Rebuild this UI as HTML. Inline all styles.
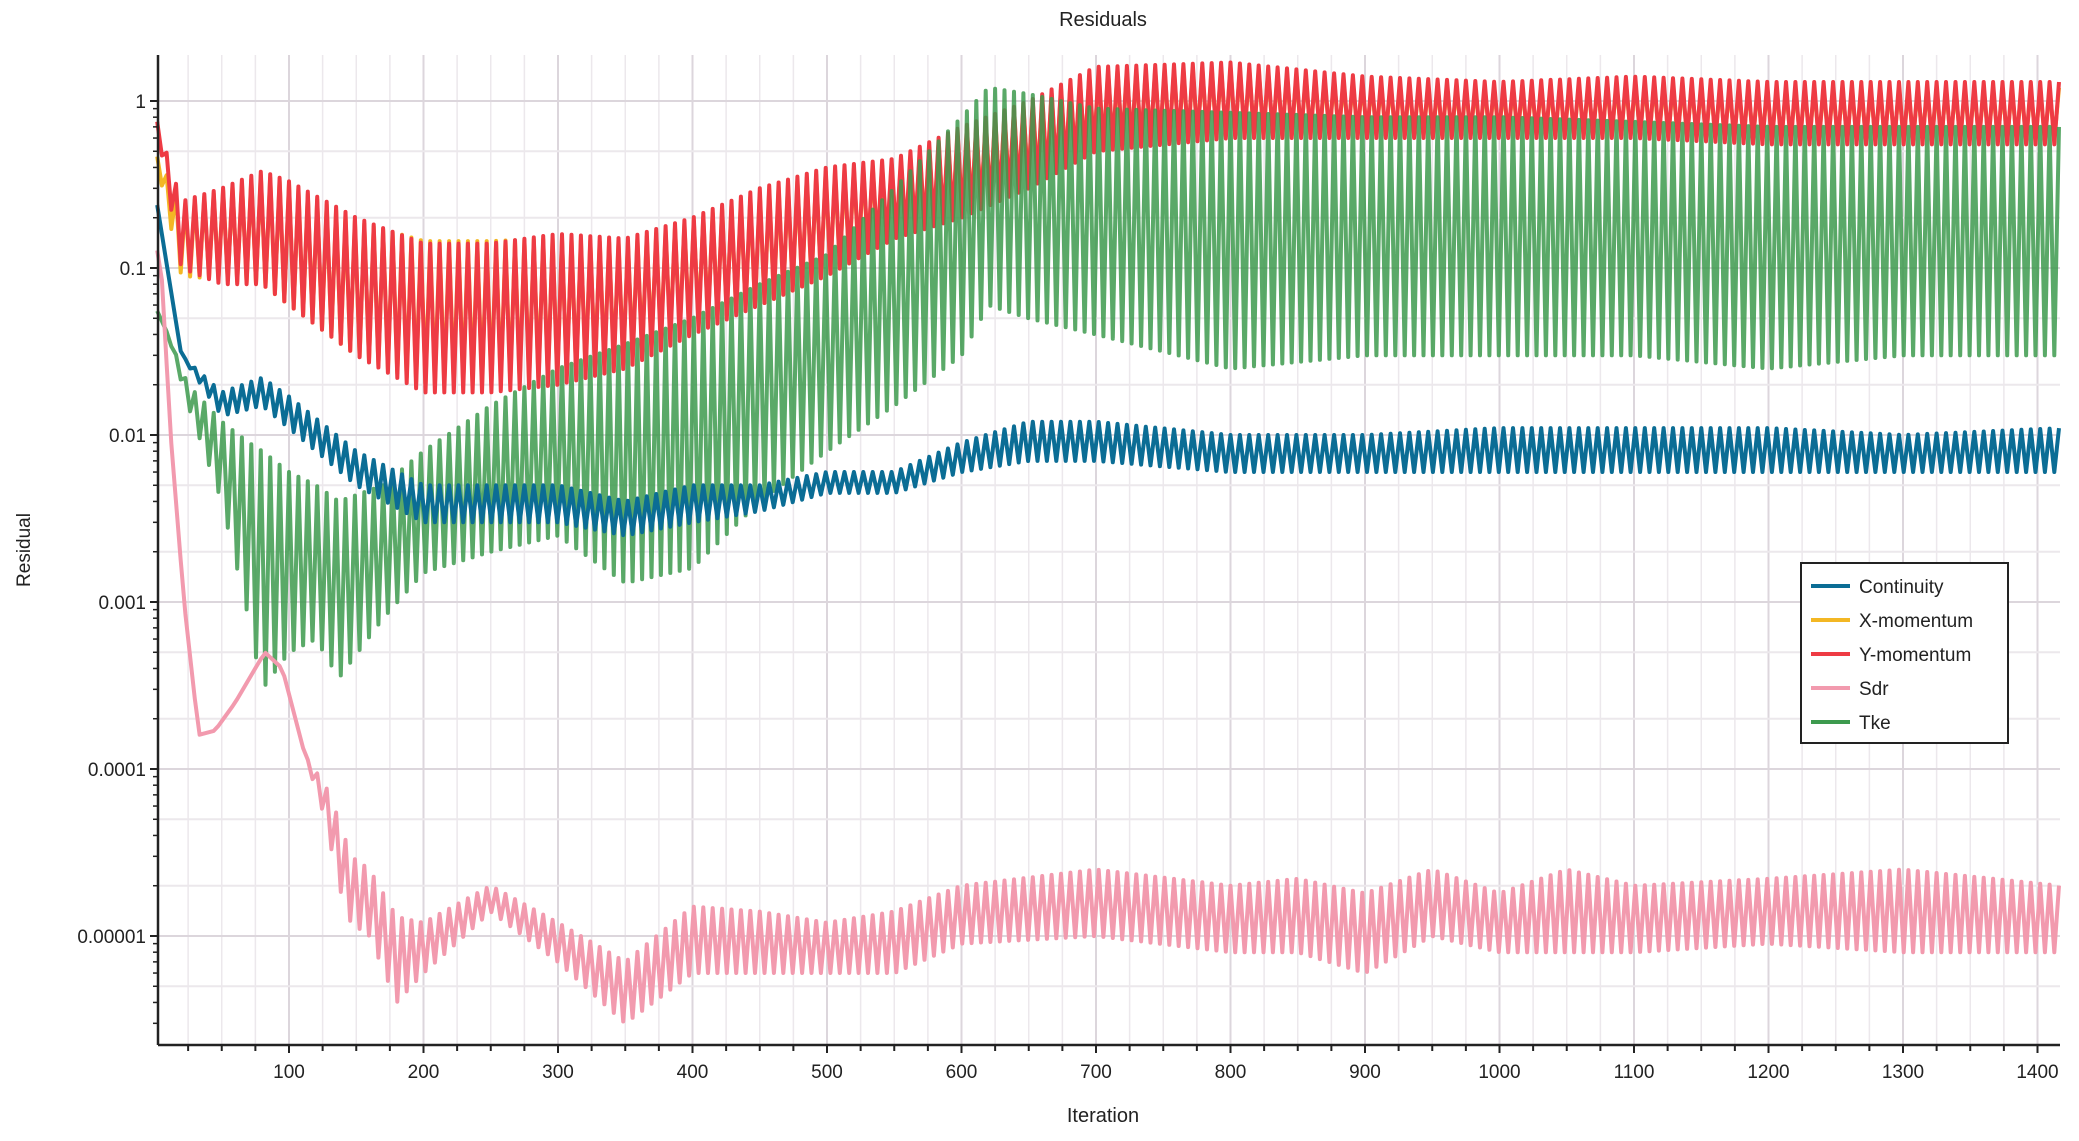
<!DOCTYPE html>
<html><head><meta charset="utf-8"><style>
html,body{margin:0;padding:0;background:#fff;}
svg{display:block;font-family:"Liberation Sans",Arial,sans-serif;}
</style></head><body>
<svg id="chart" width="2079" height="1141" viewBox="0 0 2079 1141" xmlns="http://www.w3.org/2000/svg">
<rect width="2079" height="1141" fill="#fff"/>
<g id="grid"></g>
<g id="series"></g>
<g id="axes"></g>
<text x="1103" y="26" text-anchor="middle" font-size="20" fill="#222">Residuals</text>
<text x="1103" y="1122" text-anchor="middle" font-size="20" fill="#222">Iteration</text>
<text transform="translate(30,550) rotate(-90)" text-anchor="middle" font-size="19" fill="#222">Residual</text>
<g id="legend"></g>
</svg>
<script>
// ---- data (envelopes of oscillating residuals) ----
const iters = [0,20,50,80,100,150,200,250,300,350,400,450,500,550,600,650,700,800,900,1000,1100,1200,1300,1417];
const yMomUpper = [0.85,0.25,0.3,0.38,0.33,0.2,0.14,0.14,0.16,0.15,0.2,0.3,0.4,0.45,0.7,1.0,1.6,1.7,1.4,1.3,1.4,1.3,1.3,1.3];
const yMomLower = [0.85,0.1,0.08,0.08,0.06,0.03,0.018,0.018,0.02,0.025,0.04,0.06,0.09,0.15,0.2,0.3,0.5,0.6,0.6,0.6,0.6,0.55,0.55,0.55];
const xMomUpper = [0.5,0.24,0.29,0.36,0.32,0.19,0.145,0.145,0.15,0.14,0.19,0.28,0.38,0.42,0.65,0.95,1.5,1.6,1.3,1.2,1.3,1.2,1.2,1.2];
const xMomLower = [0.5,0.09,0.085,0.08,0.06,0.03,0.02,0.02,0.022,0.028,0.045,0.06,0.09,0.15,0.21,0.32,0.52,0.62,0.62,0.62,0.62,0.58,0.58,0.58];
const tkeIters = [0,10,25,50,70,80,100,120,137,170,200,250,300,350,400,450,500,550,600,620,650,700,800,900,1000,1100,1200,1300,1417];
const tkeUpper = [0.06,0.04,0.02,0.012,0.009,0.008,0.006,0.005,0.004,0.005,0.008,0.015,0.025,0.035,0.05,0.08,0.12,0.3,0.8,1.2,1.1,0.9,0.85,0.8,0.8,0.75,0.7,0.7,0.7];
const tkeLower = [0.06,0.04,0.015,0.004,0.0008,0.0003,0.0005,0.0006,0.00035,0.0008,0.0015,0.002,0.0025,0.0013,0.0016,0.004,0.008,0.015,0.03,0.06,0.05,0.04,0.025,0.03,0.03,0.03,0.025,0.03,0.03];
const contUpper = [0.3,0.03,0.018,0.022,0.017,0.008,0.005,0.005,0.005,0.004,0.005,0.005,0.006,0.006,0.009,0.012,0.012,0.01,0.01,0.011,0.011,0.011,0.01,0.011];
const contLower = [0.3,0.03,0.013,0.015,0.011,0.005,0.003,0.003,0.003,0.0025,0.003,0.0035,0.0045,0.0045,0.006,0.007,0.007,0.006,0.006,0.006,0.006,0.006,0.006,0.006];
const sdrIters = [0,5,12,22,33,45,60,82,95,112,127,137,146,160,180,200,250,300,350,400,450,500,550,600,700,800,850,900,950,1000,1050,1100,1200,1300,1417];
const sdrUpper = [0.15,0.1,0.01,0.001,0.00016,0.00017,0.00025,0.0005,0.0004,0.00012,0.00008,0.00005,0.00003,0.000025,1.3e-5,1.2e-5,2e-5,1.2e-5,7e-6,1.5e-5,1.4e-5,1.2e-5,1.4e-5,2e-5,2.5e-5,2e-5,2.2e-5,1.8e-5,2.5e-5,1.8e-5,2.5e-5,2e-5,2.2e-5,2.5e-5,2e-5];
const sdrLower = [0.15,0.1,0.01,0.001,0.00016,0.00017,0.00025,0.0005,0.0004,0.00012,0.00005,0.00002,0.000012,0.00001,4e-6,6e-6,1.4e-5,7e-6,3e-6,6e-6,6e-6,6e-6,6e-6,9e-6,1e-5,8e-6,8e-6,6e-6,1e-5,8e-6,8e-6,8e-6,9e-6,8e-6,8e-6];
const xTicks = [100,200,300,400,500,600,700,800,900,1000,1100,1200,1300,1400];
const yTicks = [1,0.1,0.01,0.001,0.0001,0.00001];
const yTickLabels = ["1","0.1","0.01","0.001","0.0001","0.00001"];
const seriesNames = ["Continuity","X-momentum","Y-momentum","Sdr","Tke"];
const seriesColors = ["#0b6d95","#f3b724","#ee3b44","#f29aae","#3d9a4e"];
const PERIOD = 7;

// ---- axes ----
const X0 = 154.5, XS = 1.345, LEFT = 158, RIGHT = 2060, TOP = 55, BOTTOM = 1045;
const Y1 = 101, DEC = 167;
const xMax = 1417;
const sx = v => X0 + v * XS;
const sy = v => Y1 - Math.log10(v) * DEC;
const NS = "http://www.w3.org/2000/svg";
function mk(tag, attrs, parent){const e=document.createElementNS(NS,tag);for(const k in attrs)e.setAttribute(k,attrs[k]);parent.appendChild(e);return e;}

const grid = document.getElementById('grid');
for(let it=25; it<=xMax; it+=25){
  const l = mk('line',{x1:sx(it),x2:sx(it),y1:TOP,y2:BOTTOM,stroke:(it%100===0)?'#dcd6dc':'#ece8ec','stroke-width':(it%100===0)?2:1.5},grid);
  
  
}
for(let d=-6; d<=0; d++){
  [1,2,5].forEach(m=>{
    const v=m*Math.pow(10,d); const y=sy(v);
    if(y<TOP||y>BOTTOM) return;
    const l = mk('line',{x1:LEFT,x2:RIGHT,y1:y,y2:y,stroke:m===1?'#dcd6dc':'#ece8ec','stroke-width':2},grid);
    
    
  });
}

// ---- series ----
function interp(xs, arr, it){
  for(let i=0;i<xs.length-1;i++){
    if(it<=xs[i+1]){const t=(it-xs[i])/(xs[i+1]-xs[i]);return Math.pow(10,Math.log10(arr[i])*(1-t)+Math.log10(arr[i+1])*t);}
  }
  return arr[arr.length-1];
}
function buildPath(xs, up, lo){
  let d='', k=0;
  for(let it=2; it<=xMax; it+=PERIOD/2){
    const v = (k%2===0) ? interp(xs,up,it) : interp(xs,lo,it);
    d += (k===0?'M':'L') + sx(it).toFixed(1) + ',' + sy(v).toFixed(1);
    k++;
  }
  return d;
}
const sg = document.getElementById('series');
const drawList = [
  {i:1, xs:iters, up:xMomUpper, lo:xMomLower, op:1},
  {i:2, xs:iters, up:yMomUpper, lo:yMomLower, op:1},
  {i:4, xs:tkeIters, up:tkeUpper, lo:tkeLower, op:0.85},
  {i:0, xs:iters, up:contUpper, lo:contLower, op:1},
  {i:3, xs:sdrIters, up:sdrUpper, lo:sdrLower, op:1}
];
drawList.forEach(s=>{
  const p = mk('path',{d:buildPath(s.xs,s.up,s.lo),fill:'none',stroke:seriesColors[s.i],'stroke-width':4,'stroke-linejoin':'round','stroke-opacity':s.op},sg);
  
  
});

// ---- axis lines, ticks, labels ----
const ax = document.getElementById('axes');
mk('line',{x1:LEFT,x2:LEFT,y1:TOP,y2:BOTTOM,stroke:'#222','stroke-width':2.5},ax);
mk('line',{x1:LEFT,x2:RIGHT,y1:BOTTOM,y2:BOTTOM,stroke:'#222','stroke-width':2.5},ax);
for(let it=25; it<=xMax; it+=25){
  const t = mk('line',{x1:sx(it),x2:sx(it),y1:BOTTOM,y2:BOTTOM+(it%100===0?8:6),stroke:'#222','stroke-width':2},ax);
  
  
}
xTicks.forEach(v=>{
  const t = mk('text',{x:sx(v),y:BOTTOM+33,'text-anchor':'middle','font-size':19,fill:'#222'},ax);
  t.textContent=v;
  
  
});
for(let d=-6; d<=0; d++){
  for(let m=1;m<10;m++){
    const v=m*Math.pow(10,d), y=sy(v);
    if(y<TOP||y>BOTTOM) continue;
    const t = mk('line',{x1:LEFT-(m===1?8:5),x2:LEFT,y1:y,y2:y,stroke:'#222','stroke-width':m===1?2:1.5},ax);
    
    
  }
}
yTicks.forEach((v,i)=>{
  const t = mk('text',{x:LEFT-12,y:sy(v)+7,'text-anchor':'end','font-size':19,fill:'#222'},ax);
  t.textContent=yTickLabels[i];
  
  
});

// ---- legend ----
const lg = document.getElementById('legend');
mk('rect',{x:1801,y:563,width:207,height:180,fill:'#fff',stroke:'#222','stroke-width':2},lg);
seriesNames.forEach((n,i)=>{
  const y = 586 + i*34;
  const g = mk('g',{},lg);
  
  
  mk('line',{x1:1811,x2:1850,y1:y,y2:y,stroke:seriesColors[i],'stroke-width':4},g);
  const t = mk('text',{x:1859,y:y+7,'font-size':19,fill:'#222'},g);
  t.textContent=n;
});
</script>
</body></html>
